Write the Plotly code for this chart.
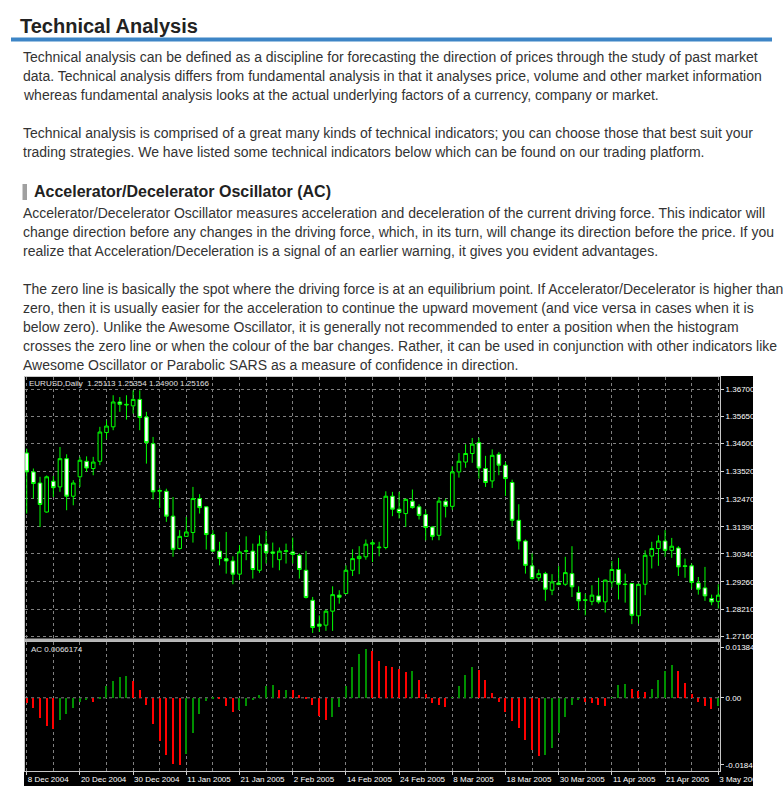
import plotly.graph_objects as go

W, H = 783, 789

# ---------------- data ----------------
OPEN = [1.3424, 1.3351, 1.3308, 1.3196, 1.3315, 1.3293, 1.3402, 1.3257, 1.3332, 1.3392,
        1.3364, 1.3392, 1.3503, 1.3525, 1.3621, 1.3612, 1.3606, 1.3631, 1.3563, 1.3460,
        1.3276, 1.3276, 1.3180, 1.3055, 1.3102, 1.3117, 1.3248, 1.3216, 1.3109, 1.3045,
        1.3016, 1.3007, 1.2956, 1.3044, 1.3045, 1.2971, 1.3072, 1.3042, 1.3012, 1.3044,
        1.3042, 1.3029, 1.2971, 1.2855, 1.2763, 1.2759, 1.2813, 1.2875, 1.2881, 1.2971,
        1.3016, 1.3023, 1.3072, 1.3058, 1.3059, 1.3257, 1.3207, 1.3190, 1.3238, 1.3216,
        1.3186, 1.3138, 1.3106, 1.3238, 1.3218, 1.3351, 1.3389, 1.3422, 1.3464, 1.3364,
        1.3316, 1.3419, 1.3377, 1.3310, 1.3164, 1.3084, 1.2988, 1.2942, 1.2958, 1.2894,
        1.2922, 1.2917, 1.2958, 1.2885, 1.2857, 1.2851, 1.2872, 1.2849, 1.2926, 1.2974,
        1.2918, 1.2920, 1.2795, 1.2917, 1.3026, 1.3055, 1.3084, 1.3048, 1.3057, 1.2988,
        1.2988, 1.2922, 1.2903, 1.2862, 1.2851]
HIGH = [1.3441, 1.3364, 1.3332, 1.3337, 1.3335, 1.3447, 1.3419, 1.3319, 1.3409, 1.3411,
        1.3409, 1.3525, 1.3550, 1.3647, 1.3640, 1.3647, 1.3666, 1.3666, 1.3583, 1.3486,
        1.3288, 1.3286, 1.3254, 1.3126, 1.3177, 1.3293, 1.3265, 1.3218, 1.3126, 1.3081,
        1.3119, 1.3025, 1.3068, 1.3102, 1.3074, 1.3106, 1.3123, 1.3078, 1.3059, 1.3074,
        1.3097, 1.3036, 1.3046, 1.2868, 1.2797, 1.2819, 1.2909, 1.2894, 1.2990, 1.3052,
        1.3064, 1.3090, 1.3087, 1.3081, 1.3276, 1.3274, 1.3274, 1.3248, 1.3283, 1.3226,
        1.3205, 1.3141, 1.3254, 1.3248, 1.3373, 1.3424, 1.3458, 1.3482, 1.3483, 1.3413,
        1.3438, 1.3428, 1.3389, 1.3321, 1.3226, 1.3090, 1.3036, 1.2974, 1.2965, 1.2956,
        1.2987, 1.3023, 1.3064, 1.2909, 1.2881, 1.2913, 1.2942, 1.2935, 1.3007, 1.3019,
        1.2958, 1.2922, 1.2919, 1.3048, 1.3081, 1.3106, 1.3126, 1.3096, 1.3064, 1.3016,
        1.2997, 1.2945, 1.2984, 1.2877, 1.2917]
LOW = [1.3190, 1.3248, 1.3138, 1.3194, 1.3254, 1.3274, 1.3203, 1.3222, 1.3293, 1.3351,
       1.3338, 1.3377, 1.3479, 1.3512, 1.3583, 1.3553, 1.3576, 1.3512, 1.3383, 1.3244,
       1.3212, 1.3158, 1.3023, 1.3051, 1.3100, 1.3078, 1.3190, 1.3051, 1.3042, 1.2990,
       1.2958, 1.2917, 1.2933, 1.3010, 1.2939, 1.2961, 1.2997, 1.2981, 1.2971, 1.2997,
       1.2997, 1.2939, 1.2862, 1.2729, 1.2733, 1.2737, 1.2737, 1.2842, 1.2879, 1.2949,
       1.2956, 1.3012, 1.3003, 1.3025, 1.3052, 1.3180, 1.3171, 1.3138, 1.3209, 1.3167,
       1.3087, 1.3087, 1.3087, 1.3175, 1.3205, 1.3329, 1.3367, 1.3386, 1.3325, 1.3293,
       1.3289, 1.3338, 1.3258, 1.3141, 1.3051, 1.2958, 1.2935, 1.2930, 1.2853, 1.2875,
       1.2913, 1.2911, 1.2868, 1.2817, 1.2797, 1.2836, 1.2842, 1.2808, 1.2904, 1.2858,
       1.2846, 1.2763, 1.2765, 1.2875, 1.2978, 1.2988, 1.3023, 1.3019, 1.2949, 1.2942,
       1.2900, 1.2877, 1.2853, 1.2836, 1.2823]
CLOSE = [1.3351, 1.3306, 1.3225, 1.3332, 1.3290, 1.3402, 1.3257, 1.3308, 1.3396, 1.3366,
         1.3389, 1.3505, 1.3528, 1.3621, 1.3612, 1.3610, 1.3631, 1.3561, 1.3464, 1.3274,
         1.3279, 1.3180, 1.3052, 1.3102, 1.3119, 1.3248, 1.3213, 1.3109, 1.3045, 1.3016,
         1.3007, 1.2956, 1.3042, 1.3046, 1.2974, 1.3072, 1.3039, 1.3037, 1.3045, 1.3046,
         1.3032, 1.2974, 1.2866, 1.2750, 1.2755, 1.2813, 1.2877, 1.2867, 1.2971, 1.3016,
         1.3025, 1.3072, 1.3077, 1.3060, 1.3257, 1.3207, 1.3194, 1.3245, 1.3213, 1.3183,
         1.3136, 1.3102, 1.3238, 1.3218, 1.3351, 1.3392, 1.3422, 1.3458, 1.3366, 1.3310,
         1.3415, 1.3377, 1.3325, 1.3164, 1.3084, 1.2990, 1.2939, 1.2958, 1.2898, 1.2926,
         1.2916, 1.2962, 1.2907, 1.2853, 1.2855, 1.2875, 1.2849, 1.2933, 1.2974, 1.2917,
         1.2916, 1.2797, 1.2917, 1.3029, 1.3055, 1.3084, 1.3048, 1.3064, 1.2984, 1.2986,
         1.2924, 1.2898, 1.2872, 1.2849, 1.2875]
AC = [-0.00135, -0.00253, -0.00506, -0.00717, -0.00784, -0.00573, -0.00422, -0.00253, -0.00110, -0.00051,
      -0.00110, -0.00008, 0.00287, 0.00422, 0.00523, 0.00540, 0.00422, 0.00202, -0.00194, -0.00674,
      -0.01104, -0.01458, -0.01686, -0.01711, -0.01416, -0.00894, -0.00422, -0.00093, -0.00017, -0.00042,
      -0.00211, -0.00362, -0.00320, -0.00211, -0.00051, 0.00076, 0.00287, 0.00312, 0.00185, 0.00202,
      0.00185, 0.00059, -0.00008, -0.00194, -0.00472, -0.00573, -0.00489, -0.00236, 0.00287, 0.00792,
      0.01113, 0.01239, 0.01180, 0.00944, 0.00801, 0.00792, 0.00733, 0.00649, 0.00674, 0.00438,
      0.00084, -0.00135, -0.00194, -0.00236, 0.00017, 0.00287, 0.00582, 0.00776, 0.00708, 0.00455,
      0.00118, -0.00110, -0.00362, -0.00590, -0.00759, -0.01062, -0.01315, -0.01475, -0.01458, -0.01265,
      -0.00894, -0.00489, -0.00194, -0.00067, -0.00110, -0.00135, -0.00194, -0.00219, 0.00017, 0.00312,
      0.00354, 0.00228, 0.00169, 0.00143, 0.00228, 0.00438, 0.00691, 0.00818, 0.00674, 0.00379,
      0.00101, -0.00110, -0.00219, -0.00278, -0.00219]

DATE_LABELS = ["8 Dec 2004", "20 Dec 2004", "30 Dec 2004", "11 Jan 2005", "21 Jan 2005",
               "2 Feb 2005", "14 Feb 2005", "24 Feb 2005", "8 Mar 2005", "18 Mar 2005",
               "30 Mar 2005", "11 Apr 2005", "21 Apr 2005", "3 May 2005"]
PRICE_TICKS = [1.367, 1.3565, 1.346, 1.3352, 1.3247, 1.3139, 1.3034, 1.2926, 1.2821, 1.2716]
PRICE_TICK_TEXT = ["1.36700", "1.35650", "1.34600", "1.33520", "1.32470",
                   "1.31390", "1.30340", "1.29260", "1.28210", "1.27160"]
AC_TICK_TEXT = ["0.013844", "0.00", "-0.01846"]
CHART_TITLE = "EURUSD,Daily  1.25113 1.25354 1.24900 1.25166"
AC_TITLE = "AC 0.0066174"

HEADING = "Technical Analysis"
SUBHEADING = "Accelerator/Decelerator Oscillator (AC)"
PARA_LINES = [
    "Technical analysis can be defined as a discipline for forecasting the direction of prices through the study of past market",
    "data. Technical analysis differs from fundamental analysis in that it analyses price, volume and other market information",
    "whereas fundamental analysis looks at the actual underlying factors of a currency, company or market.",
    "Technical analysis is comprised of a great many kinds of technical indicators; you can choose those that best suit your",
    "trading strategies. We have listed some technical indicators below which can be found on our trading platform.",
]
AC_LINES = [
    "Accelerator/Decelerator Oscillator measures acceleration and deceleration of the current driving force. This indicator will",
    "change direction before any changes in the driving force, which, in its turn, will change its direction before the price. If you",
    "realize that Acceleration/Deceleration is a signal of an earlier warning, it gives you evident advantages.",
    "The zero line is basically the spot where the driving force is at an equilibrium point. If Accelerator/Decelerator is higher than",
    "zero, then it is usually easier for the acceleration to continue the upward movement (and vice versa in cases when it is",
    "below zero). Unlike the Awesome Oscillator, it is generally not recommended to enter a position when the histogram",
    "crosses the zero line or when the colour of the bar changes. Rather, it can be used in conjunction with other indicators like",
    "Awesome Oscillator or Parabolic SARS as a measure of confidence in direction.",
]

# ---------------- layout helpers ----------------
PAGE_FONT = "Liberation Sans, Arial, sans-serif"
CHART_FONT = "Liberation Sans, Arial, sans-serif"


def fx(px):
    return px / W


def fy(py):
    return 1 - py / H


BARS = list(range(len(OPEN)))
X_RANGE = [-0.26, 104.26]
ac_colors = ["#ff0000"] + ["#009000" if AC[i] > AC[i - 1] else "#ff0000" for i in range(1, len(AC))]

fig = go.Figure()
fig.add_trace(go.Candlestick(
    x=BARS, open=OPEN, high=HIGH, low=LOW, close=CLOSE,
    increasing=dict(line=dict(color="#00ff00", width=1), fillcolor="#000000"),
    decreasing=dict(line=dict(color="#00ff00", width=1), fillcolor="#ffffff"),
    whiskerwidth=0, xaxis="x", yaxis="y", hoverinfo="skip", showlegend=False,
))
fig.add_trace(go.Bar(
    x=BARS, y=AC, marker=dict(color=ac_colors, line=dict(width=0)), width=0.2,
    xaxis="x2", yaxis="y2", hoverinfo="skip", showlegend=False,
))

grid = dict(showgrid=True, gridcolor="#808080", gridwidth=1, griddash="3px,3px")
x_dom = [fx(25), fx(720)]
tick_font = dict(family=CHART_FONT, size=8, color="#ffffff")

layout = dict(
    width=W, height=H, autosize=False,
    margin=dict(l=0, r=0, t=0, b=0, pad=0, autoexpand=False),
    paper_bgcolor="#ffffff", plot_bgcolor="#000000",
    showlegend=False, boxgap=0.22, bargap=0,
    xaxis=dict(domain=x_dom, range=X_RANGE, anchor="y", tickvals=list(range(0, 105, 4)),
               showticklabels=False, ticks="", zeroline=False, rangeslider=dict(visible=False),
               automargin=False,
               showline=True, mirror=True, linecolor="#c8c8c8", linewidth=1, **grid),
    yaxis=dict(domain=[fy(640), fy(377)], range=[1.27017, 1.37175], anchor="x", side="right",
               tickvals=PRICE_TICKS, ticktext=PRICE_TICK_TEXT, ticks="outside", ticklen=3,
               tickcolor="#d0d0d0", tickfont=tick_font, automargin=False,
               zeroline=False, showline=True, mirror=True, linecolor="#c8c8c8", linewidth=1, **grid),
    xaxis2=dict(domain=x_dom, range=X_RANGE, anchor="y2", tickvals=list(range(0, 105, 8)),
                ticktext=DATE_LABELS, ticks="outside", ticklen=3, tickcolor="#d0d0d0",
                ticklabelposition="outside right", tickangle=0, automargin=False,
                tickfont=tick_font,
                minor=dict(tickvals=list(range(4, 105, 8)), ticks="", **grid),
                zeroline=False, showline=True, mirror=True, linecolor="#c8c8c8", linewidth=1, **grid),
    yaxis2=dict(domain=[fy(771), fy(642)], range=[-0.01852, 0.01412], anchor="x2", side="right",
                tickvals=[0.01285, 0.0, -0.0170], ticktext=AC_TICK_TEXT, ticks="outside", ticklen=3,
                tickcolor="#d0d0d0", tickfont=tick_font, automargin=False,
                showgrid=False, zeroline=False, showline=True, mirror=True,
                linecolor="#c8c8c8", linewidth=1),
)
fig.update_layout(**layout)

shapes = [
    dict(type="rect", xref="paper", yref="paper", x0=fx(11), x1=fx(772), y0=fy(41.5), y1=fy(37.5),
         fillcolor="#3d85c6", line=dict(width=0)),
    dict(type="rect", xref="paper", yref="paper", x0=fx(22.5), x1=fx(27), y0=fy(200), y1=fy(184),
         fillcolor="#a0a0a0", line=dict(width=0)),
    dict(type="rect", xref="paper", yref="paper", x0=fx(24), x1=fx(753), y0=fy(786), y1=fy(376),
         fillcolor="#000000", line=dict(width=0), layer="below"),
    dict(type="rect", xref="paper", yref="paper", x0=fx(25), x1=fx(720.5), y0=fy(641.8), y1=fy(638.6),
         fillcolor="#b4b4b4", line=dict(width=0), layer="above"),
    dict(type="line", xref="x2 domain", yref="y2", x0=0, x1=1, y0=0, y1=0,
         line=dict(color="#808080", width=1, dash="3px,3px"), layer="below"),
]
fig.update_layout(shapes=shapes)

anns = []


def add_text(text, x, y, size, color, family=PAGE_FONT):
    anns.append(dict(text=text, x=fx(x), y=fy(y), xref="paper", yref="paper", xanchor="left",
                     yanchor="middle", showarrow=False, borderpad=0,
                     font=dict(size=size, color=color, family=family)))


add_text("<b>" + HEADING + "</b>", 19, 26, 20, "#222222")
para_y = [56.8, 75.8, 94.8, 132.8, 151.8]
for t, y in zip(PARA_LINES, para_y):
    add_text(t, 22, y, 14, "#333333")
add_text("<b>" + SUBHEADING + "</b>", 33, 191.5, 16, "#222222")
ac_y = [212.8, 231.8, 250.8, 288.8, 307.8, 326.8, 345.8, 364.8]
for t, y in zip(AC_LINES, ac_y):
    add_text(t, 22, y, 14, "#333333")
add_text(CHART_TITLE, 28, 384, 8, "#e0e0e0", CHART_FONT)
add_text(AC_TITLE, 30, 649, 8, "#e0e0e0", CHART_FONT)
fig.update_layout(annotations=anns)

fig.write_html(
    "out.html",
    config={"responsive": False, "displayModeBar": False},
    post_script="document.body.style.margin='0px';document.body.style.overflow='hidden';",
)
